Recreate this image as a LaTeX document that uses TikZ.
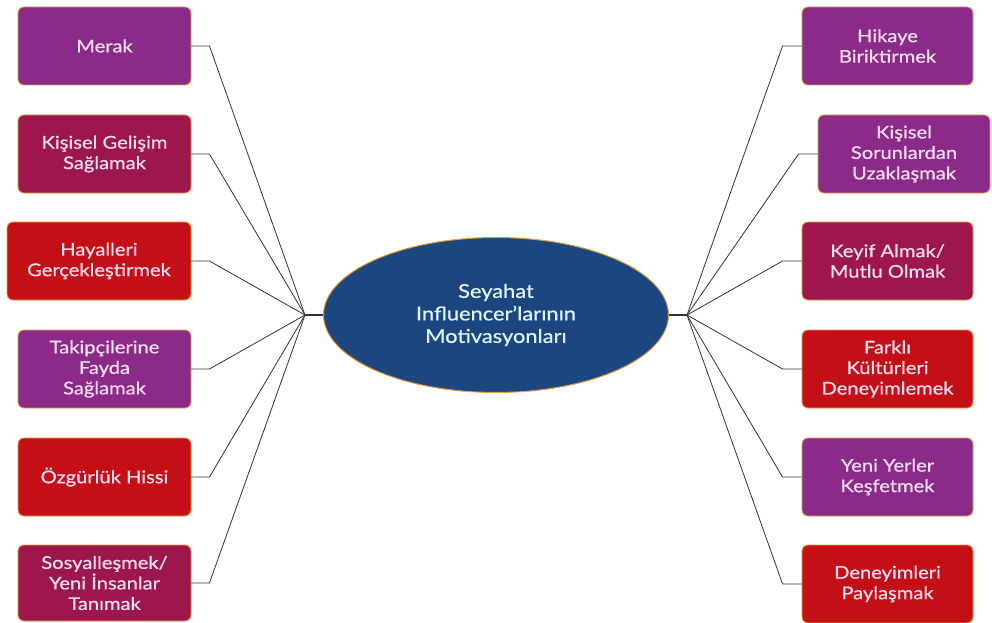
\documentclass[tikz,border=0pt]{standalone}
\usepackage{fontspec}
\setmainfont{Lato}[FakeStretch=1.15, FakeBold=0.8]
\usetikzlibrary{shapes.geometric}
\definecolor{cpurple}{HTML}{8C2A8A}
\definecolor{ccrimson}{HTML}{9E174C}
\definecolor{cred}{HTML}{C50F16}
\definecolor{cblue}{HTML}{1C4680}
\definecolor{cborder}{HTML}{E89A3C}
\definecolor{ctext}{HTML}{F7DDF0}
\definecolor{cline}{HTML}{333333}
\begin{document}
\begin{tikzpicture}[x=1pt,y=-1pt,
  box/.style={rectangle, rounded corners=6pt, draw=cborder, line width=0.9pt,
    minimum height=78pt, inner sep=2pt, align=center, text=ctext,
    font=\fontsize{17.5}{20.5}\selectfont},
  pbox/.style={box, fill=cpurple},
  cbox/.style={box, fill=ccrimson},
  rbox/.style={box, fill=cred},
  conn/.style={draw=cline, line width=0.8pt},
]
\useasboundingbox (0,0) rectangle (992,623);
% centre
\node[ellipse, fill=cblue, draw=cborder, line width=1pt, minimum width=345pt,
  minimum height=155pt, inner sep=0pt, align=center, text=white!88!cyan,
  font=\fontsize{19}{22.5}\selectfont] (c) at (496,315)
  {Seyahat\\Influencer'larının\\Motivasyonları};
\coordinate (jl) at (305,315);
\coordinate (jr) at (687,315);
% left
\node[pbox, minimum width=173pt] (l1) at (104.5,46) {Merak};
\node[cbox, minimum width=173pt] (l2) at (104.5,154) {Kişisel Gelişim\\Sağlamak};
\node[rbox, minimum width=184pt] (l3) at (99,261) {Hayalleri\\Gerçekleştirmek};
\node[pbox, minimum width=173pt] (l4) at (104.5,369) {Takipçilerine\\Fayda\\Sağlamak};
\node[rbox, minimum width=173pt] (l5) at (104.5,477) {Özgürlük Hissi};
\node[cbox, minimum width=173pt, minimum height=76pt] (l6) at (104.5,583) {Sosyalleşmek/\\Yeni İnsanlar\\Tanımak};
% right
\node[pbox, minimum width=171pt] (r1) at (887.5,46) {Hikaye\\Biriktirmek};
\node[pbox, minimum width=172pt] (r2) at (904,154) {Kişisel\\Sorunlardan\\Uzaklaşmak};
\node[cbox, minimum width=171pt] (r3) at (887.5,261) {Keyif Almak/\\Mutlu Olmak};
\node[rbox, minimum width=171pt] (r4) at (887.5,369) {Farklı\\Kültürleri\\Deneyimlemek};
\node[pbox, minimum width=171pt] (r5) at (887.5,477) {Yeni Yerler\\Keşfetmek};
\node[rbox, minimum width=171pt] (r6) at (887.5,584) {Deneyimleri\\Paylaşmak};
% connectors
\foreach \n in {l1,l2,l3,l4,l5,l6}
  \draw[conn] (\n.east) -- ++(18,0) -- (jl);
\foreach \n in {r1,r2,r3,r4,r5,r6}
  \draw[conn] (\n.west) -- ++(-19,0) -- (jr);
\draw[conn, line width=1.4pt] (jl) -- (c.west);
\draw[conn, line width=1.4pt] (jr) -- (c.east);
\end{tikzpicture}
\end{document}
